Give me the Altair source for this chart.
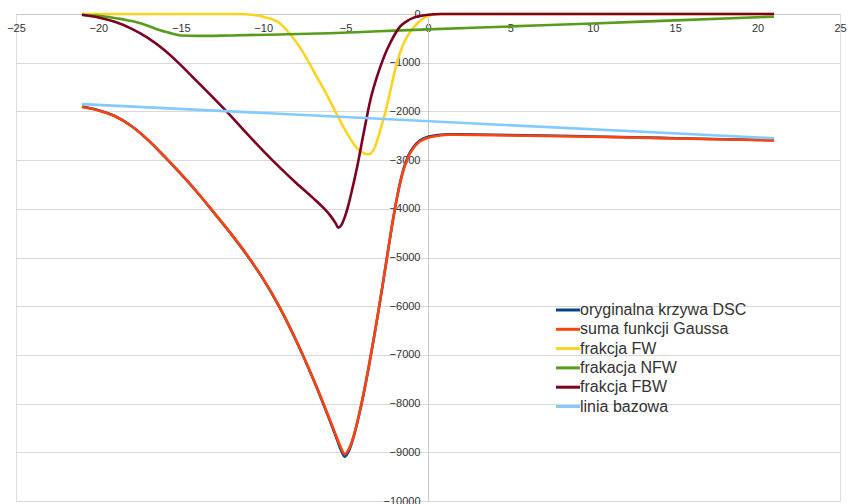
import altair as alt
import pandas as pd

series_names = ["oryginalna krzywa DSC", "suma funkcji Gaussa", "frakcja FW",
                "frakacja NFW", "frakcja FBW", "linia bazowa"]
series_colors = ["#004586", "#FF420E", "#FFD320", "#579D1C", "#7E0021", "#83CAFF"]

x_ticks = [-25, -20, -15, -10, -5, 0, 5, 10, 15, 20, 25]
y_ticks = [0, -1000, -2000, -3000, -4000, -5000, -6000, -7000, -8000, -9000, -10000]

# suma funkcji Gaussa
sum_x = [-21.0, -20.0, -19.0, -18.0, -17.0, -16.0, -15.0, -14.0, -13.0, -12.0, -11.0,
         -10.0, -9.0, -8.0, -7.0, -6.4, -6.0, -5.6, -5.3, -5.05, -4.8, -4.5, -4.2,
         -3.9, -3.6, -3.3, -3.0, -2.7, -2.4, -2.1, -1.8, -1.5, -1.2, -0.9, -0.5,
         0.0, 0.6, 1.3, 3.0, 6.0, 10.0, 15.0, 21.0]
sum_v = [-1910, -1980, -2100, -2300, -2580, -2920, -3280, -3660, -4070, -4490, -4940,
         -5440, -6020, -6700, -7460, -7950, -8290, -8640, -8890, -9040, -8930, -8650, -8250,
         -7780, -7250, -6680, -6080, -5450, -4800, -4180, -3640, -3220, -2930, -2760, -2620,
         -2540, -2500, -2480, -2485, -2500, -2520, -2555, -2595]

# oryginalna krzywa DSC
orig_x = sum_x
orig_v = [-1900, -1975, -2095, -2300, -2585, -2925, -3285, -3665, -4075, -4495, -4945,
          -5445, -6030, -6710, -7470, -7965, -8310, -8665, -8940, -9090, -8970, -8670, -8260,
          -7790, -7260, -6690, -6090, -5460, -4810, -4180, -3630, -3200, -2910, -2740, -2600,
          -2520, -2485, -2470, -2475, -2490, -2515, -2550, -2590]

# frakcja FW
fw_x = [-21.0, -11.5, -10.7, -10.2, -9.8, -9.0, -8.4, -7.8, -7.2, -6.75, -6.3, -5.9,
        -5.5, -5.1, -4.7, -4.3, -3.9, -3.6, -3.35, -3.1, -2.85, -2.6, -2.3, -2.0, -1.7,
        -1.4, -1.0, -0.6, -0.2, 0.2, 0.8, 21.0]
fw_v = [0, 0, -15, -40, -75, -190, -400, -670, -1010, -1290, -1560, -1820,
        -2080, -2340, -2570, -2760, -2860, -2880, -2820, -2620, -2330, -2030, -1600, -1150, -800,
        -550, -330, -180, -70, -20, 0, 0]

# frakacja NFW
nfw_x = [-21.0, -20.0, -19.3, -18.5, -17.9, -17.0, -16.4, -15.6, -15.0, -14.0, -12.0,
         -9.0, -6.0, -3.0, 0.0, 5.0, 10.0, 15.0, 21.0]
nfw_v = [-20, -35, -65, -110, -150, -240, -320, -395, -440, -450, -440,
         -420, -395, -355, -315, -255, -195, -130, -55]

# frakcja FBW
fbw_x = [-21.0, -20.0, -19.0, -18.0, -17.0, -16.0, -15.0, -14.0, -13.0, -12.0, -11.0,
         -10.0, -9.0, -8.0, -7.0, -6.4, -5.9, -5.6, -5.44, -5.25, -5.05, -4.85, -4.6, -4.3,
         -3.9, -3.5, -3.2, -2.9, -2.6, -2.3, -2.0, -1.7, -1.3, -0.9, -0.4, 0.0, 0.8, 21.0]
fbw_v = [-15, -70, -160, -300, -490, -740, -1050, -1390, -1730, -2080, -2450,
         -2810, -3150, -3470, -3770, -3960, -4150, -4300, -4390, -4330, -4170, -3950, -3600, -3140,
         -2440, -1770, -1400, -1090, -820, -600, -410, -260, -150, -80, -35, -15, 0, 0]

# linia bazowa
base_x = [-21.0, 21.0]
base_v = [-1850, -2550]

rows = []
for name, xs, vs in [
    (series_names[0], orig_x, orig_v),
    (series_names[1], sum_x, sum_v),
    (series_names[2], fw_x, fw_v),
    (series_names[3], nfw_x, nfw_v),
    (series_names[4], fbw_x, fbw_v),
    (series_names[5], base_x, base_v),
]:
    for xv, yv in zip(xs, vs):
        rows.append({"series": name, "x": xv, "v": yv})
df = pd.DataFrame(rows)

W, H = 824, 487
x_zero_px = W * 25 / 50

chart = alt.Chart(df).mark_line(strokeWidth=2.6, interpolate="monotone").encode(
    x=alt.X("x:Q",
            scale=alt.Scale(domain=[-25, 25], nice=False, zero=False),
            axis=alt.Axis(orient="bottom", offset=-H, values=x_ticks, title=None,
                          ticks=False, grid=False, labelPadding=8, labelFlush=False,
                          domainColor="#c8c8c8", labelColor="#333333", labelFontSize=11,
                          labelFont="Liberation Sans", format="d")),
    y=alt.Y("v:Q",
            scale=alt.Scale(domain=[-10000, 0], nice=False, zero=False),
            axis=alt.Axis(orient="left", offset=-x_zero_px, values=y_ticks, title=None,
                          ticks=False, grid=True, gridColor="#d9d9d9", labelPadding=8,
                          labelFlush=False, domainColor="#c8c8c8", labelColor="#333333",
                          labelFontSize=11, labelFont="Liberation Sans", format="d")),
    color=alt.Color("series:N",
                    scale=alt.Scale(domain=series_names, range=series_colors),
                    legend=alt.Legend(title=None, orient="none", legendX=544, legendY=288,
                                      symbolType="M-2,0L2,0", symbolSize=144,
                                      symbolStrokeWidth=3, labelFontSize=16,
                                      labelFont="Liberation Sans", labelColor="#333333",
                                      labelOffset=4, rowPadding=3.3, labelLimit=400)),
    detail="series:N",
).properties(
    width=W, height=H,
    padding={"left": 16, "top": 14, "right": 8, "bottom": 3},
    autosize=alt.AutoSizeParams(type="none"),
).configure_view(stroke="#cfcfcf", strokeWidth=1).configure(background="white")

chart.save("out.html", embed_options={"renderer": "svg", "actions": False})
